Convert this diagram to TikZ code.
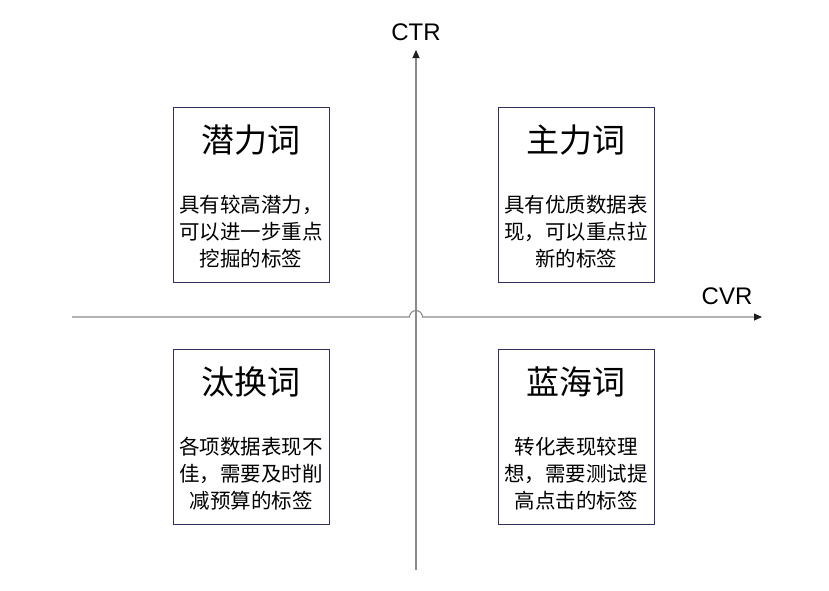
\documentclass[tikz,border=0pt]{standalone}
\usepackage{fontspec}
\setmainfont{Liberation Sans}
\newfontfamily\cjk{Noto Sans CJK SC}
\usetikzlibrary{arrows.meta,positioning,calc}
\definecolor{frame}{HTML}{2E3160}
\definecolor{axisgray}{HTML}{8A8A8A}
\definecolor{tipink}{HTML}{1E1E1E}
\newcommand{\BoxW}{156}
\newcommand{\BoxH}{175}

\begin{document}
\begin{tikzpicture}[x=1pt, y=-1pt,
    quad/.style={draw=frame, line width=0.8pt, minimum width=\BoxW pt, minimum height=\BoxH pt, inner sep=0pt},
    qtitle/.style={font={\cjk\fontsize{33}{38}\selectfont}, text=black},
    qdesc/.style={font={\cjk\fontsize{20.5}{27}\selectfont}, text=black, align=center, inner sep=0pt},
    axisline/.style={draw=axisgray, line width=1.1pt, -{Triangle[length=8pt, width=7pt, color=tipink]}},
    axislabel/.style={font=\fontsize{24}{27}\selectfont, text=black},
  ]
\useasboundingbox (0,0) rectangle (829,590);

% --- Axes ---------------------------------------------------------------------
\coordinate (xleft) at (72,317);
\coordinate (xright) at (762,317);
\coordinate (ybottom) at (416,570);
\coordinate (ytop) at (416,50);
\coordinate (origin) at (416,317);
\draw[axisline] (ybottom) -- (ytop);
\draw[axisline] (xleft) -- ($(origin)+(-6.5,0)$) arc[start angle=180, end angle=0, radius=6.5pt] -- (xright);
\node[axislabel] (ctr) at (416,32) {CTR};
\node[axislabel] (cvr) at (727,296) {CVR};

% --- Quadrants: name/center/title/description ---------------------------------
\foreach \qname/\cx/\cy/\qt/\qd in {
  potential/251/194.5/潜力词/{具有较高潜力，\\可以进一步重点\\挖掘的标签},
  core/576/194.5/主力词/{具有优质数据表\\现，可以重点拉\\新的标签},
  drop/251/437/汰换词/{各项数据表现不\\佳，需要及时削\\减预算的标签},
  blue/576/437/蓝海词/{转化表现较理\\想，需要测试提\\高点击的标签}}
{
  \node[quad] (\qname) at (\cx,\cy) {};
  \node[qtitle] (\qname-title) at ($(\qname.north)+(0,33)$) {\qt};
  \node[qdesc] (\qname-desc) at ($(\qname.north)+(0,125)$) {\qd};
}
\end{tikzpicture}
\end{document}
